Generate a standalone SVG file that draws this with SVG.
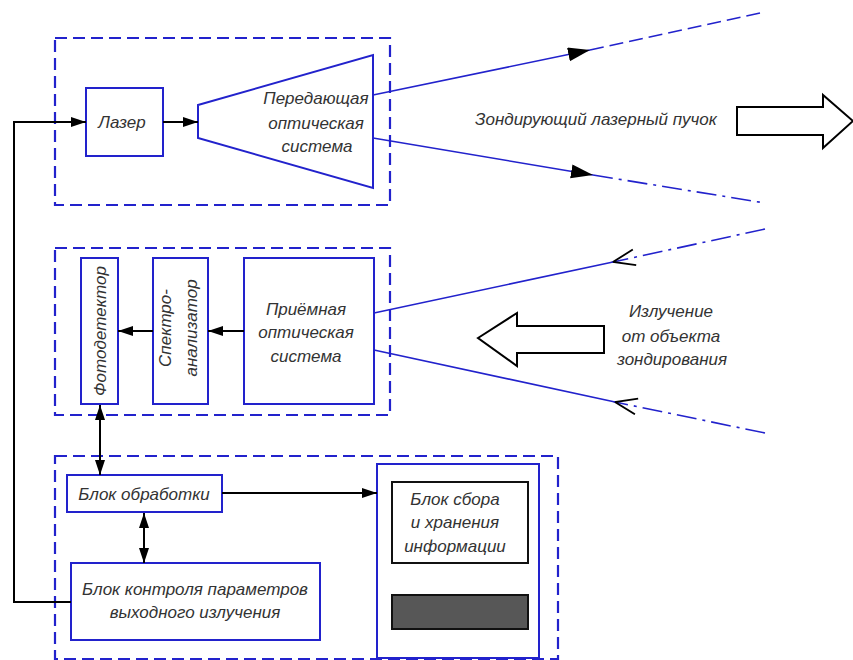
<svg xmlns="http://www.w3.org/2000/svg" width="853" height="660" viewBox="0 0 853 660">
<style>
.bg{fill:#ffffff}
.grp{fill:none;stroke:#2222cc;stroke-width:2.2;stroke-dasharray:12 6}
.blk{fill:#ffffff;stroke:#2222cc;stroke-width:2}
.blkk{fill:#ffffff;stroke:#111;stroke-width:2}
.beam{fill:none;stroke:#2222cc;stroke-width:1.6}
.dash{fill:none;stroke:#2222cc;stroke-width:1.6;stroke-dasharray:14 6}
.dashdot{fill:none;stroke:#2222cc;stroke-width:1.6;stroke-dasharray:20 6 3 6}
.con{fill:none;stroke:#000;stroke-width:2}
.hollow{fill:#ffffff;stroke:#000;stroke-width:2;stroke-linejoin:miter}
.t{font-family:"Liberation Sans","DejaVu Sans",sans-serif;font-style:italic;font-size:17px;fill:#333}
.m{text-anchor:middle}
</style>
<defs>
<marker id="ah" markerUnits="userSpaceOnUse" markerWidth="16" markerHeight="12" refX="15" refY="5" orient="auto">
<path d="M0,0 L15,5 L0,10 z" fill="#000"/>
</marker>
<marker id="ahs" markerUnits="userSpaceOnUse" markerWidth="16" markerHeight="12" refX="15" refY="5" orient="auto-start-reverse">
<path d="M0,0 L15,5 L0,10 z" fill="#000"/>
</marker>
<marker id="beamA" markerUnits="userSpaceOnUse" markerWidth="24" markerHeight="16" refX="22" refY="7" orient="auto">
<path d="M0,0 L22,7 L0,14 z" fill="#000"/>
</marker>
<marker id="chev" markerUnits="userSpaceOnUse" markerWidth="26" markerHeight="20" refX="23" refY="9" orient="auto">
<path d="M1,1 L23,9 L1,17" fill="none" stroke="#000" stroke-width="1.8"/>
</marker>
</defs>
<rect class="bg" x="0" y="0" width="853" height="660"/>

<g id="transmitter-group">
<rect class="grp" x="55" y="38" width="335" height="167"/>
</g>
<g id="receiver-group">
<rect class="grp" x="55" y="248" width="335" height="167"/>
</g>
<g id="processing-group">
<rect class="grp" x="55" y="456" width="503" height="203"/>
</g>

<g id="laser">
<rect class="blk" x="86" y="88" width="77" height="68"/>
<text class="t m" x="122" y="128">Лазер</text>
</g>
<g id="tx-optics">
<polygon class="blk" points="198,105 373,55 373,188 198,138"/>
<text class="t m" x="316" y="104">Передающая</text>
<text class="t m" x="316" y="129">оптическая</text>
<text class="t m" x="317" y="152">система</text>
</g>
<g id="photodetector">
<rect class="blk" x="81" y="258" width="37" height="146"/>
<text class="t m" transform="translate(106,331) rotate(-90)" x="0" y="0">Фотодетектор</text>
</g>
<g id="spectrum-analyzer">
<rect class="blk" x="153" y="258" width="55" height="146"/>
<text class="t m" transform="translate(171,328) rotate(-90)" x="0" y="0">Спектро-</text>
<text class="t m" transform="translate(197,328) rotate(-90)" x="0" y="0">анализатор</text>
</g>
<g id="rx-optics">
<rect class="blk" x="244" y="258" width="130" height="146"/>
<text class="t m" x="306" y="315">Приёмная</text>
<text class="t m" x="306" y="338">оптическая</text>
<text class="t m" x="306" y="362">система</text>
</g>
<g id="processing">
<rect class="blk" x="67" y="475" width="155" height="37"/>
<text class="t m" x="144" y="500">Блок обработки</text>
</g>
<g id="control">
<rect class="blk" x="71" y="563" width="249" height="77"/>
<text class="t m" x="195" y="595">Блок контроля параметров</text>
<text class="t m" x="195" y="618">выходного излучения</text>
</g>
<g id="storage">
<rect class="blk" x="377" y="464" width="162" height="194"/>
<rect class="blkk" x="392" y="482" width="136" height="81"/>
<text class="t m" x="455" y="505">Блок сбора</text>
<text class="t m" x="455" y="528">и хранения</text>
<text class="t m" x="455" y="552">информации</text>
<rect x="392" y="595" width="136" height="34" fill="#575757" stroke="#111" stroke-width="2"/>
</g>

<g id="beams">
<line class="beam" x1="373" y1="95" x2="590" y2="50" marker-end="url(#beamA)"/>
<line class="dash" x1="590" y1="50" x2="760" y2="13"/>
<line class="beam" x1="373" y1="138" x2="593" y2="175" marker-end="url(#beamA)"/>
<line class="dashdot" x1="593" y1="175" x2="765" y2="203"/>
<line class="dashdot" x1="765" y1="229" x2="613" y2="262" marker-end="url(#chev)"/>
<line class="beam" x1="613" y1="262" x2="374" y2="313"/>
<line class="dashdot" x1="765" y1="433" x2="615" y2="402" marker-end="url(#chev)"/>
<line class="beam" x1="615" y1="402" x2="374" y2="350"/>
</g>

<g id="big-arrows">
<polygon class="hollow" points="737,107 823,107 823,95 853,121 823,148 823,135 737,135"/>
<text class="t" x="475" y="125">Зондирующий лазерный пучок</text>
<polygon class="hollow" points="478,338 517,313 517,326 604,326 604,353 517,353 517,366"/>
<text class="t m" x="671" y="317">Излучение</text>
<text class="t m" x="671" y="342">от объекта</text>
<text class="t m" x="672" y="365">зондирования</text>
</g>

<g id="connectors">
<polyline class="con" points="71,602 14,602 14,122 86,122" marker-end="url(#ah)"/>
<line class="con" x1="163" y1="122" x2="198" y2="122" marker-end="url(#ah)"/>
<line class="con" x1="244" y1="331" x2="208" y2="331" marker-end="url(#ah)"/>
<line class="con" x1="153" y1="331" x2="118" y2="331" marker-end="url(#ah)"/>
<line class="con" x1="100" y1="405" x2="100" y2="475" marker-start="url(#ahs)" marker-end="url(#ah)"/>
<line class="con" x1="144" y1="513" x2="144" y2="563" marker-start="url(#ahs)" marker-end="url(#ah)"/>
<line class="con" x1="222" y1="493" x2="377" y2="493" marker-end="url(#ah)"/>
</g>
</svg>
